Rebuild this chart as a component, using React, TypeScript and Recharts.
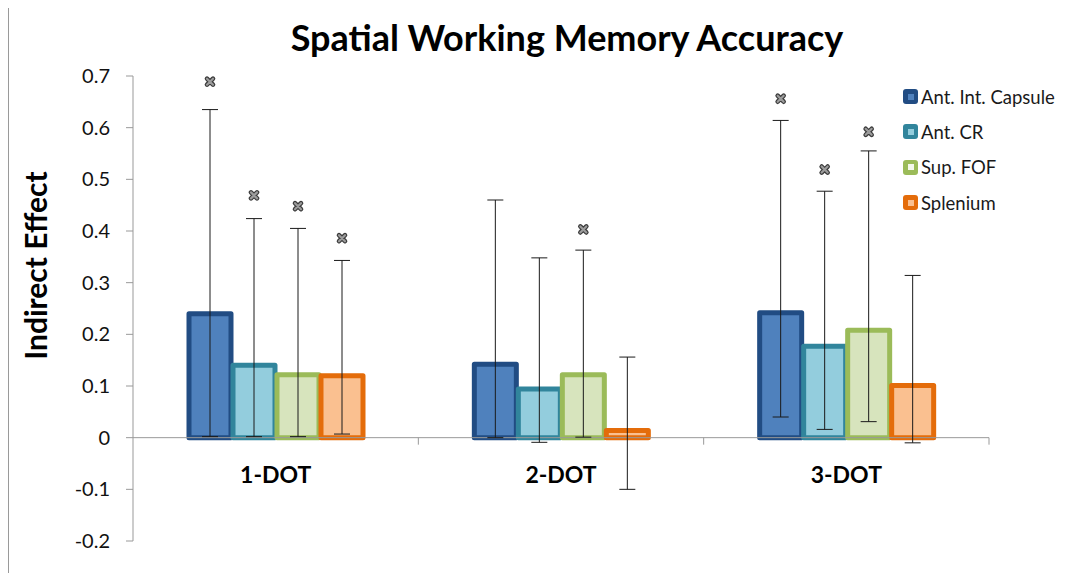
import React from 'react';
import { BarChart, Bar, XAxis, YAxis, ErrorBar, ReferenceLine, LabelList, Legend } from 'recharts';

const categories = ['1-DOT', '2-DOT', '3-DOT'];
const seriesNames = ['Ant. Int. Capsule', 'Ant. CR', 'Sup. FOF', 'Splenium'];

const capsuleValues = [0.24, 0.142, 0.242];
const crValues = [0.14, 0.094, 0.177];
const fofValues = [0.122, 0.122, 0.208];
const spleniumValues = [0.12, 0.014, 0.101];

const capsuleLow = [0.002, 0.0, 0.04];
const capsuleHigh = [0.635, 0.46, 0.614];
const crLow = [0.002, -0.009, 0.016];
const crHigh = [0.424, 0.348, 0.477];
const fofLow = [0.002, 0.001, 0.031];
const fofHigh = [0.405, 0.363, 0.555];
const spleniumLow = [0.007, -0.1, -0.01];
const spleniumHigh = [0.343, 0.156, 0.314];

const capsuleMarks = [0.689, null, 0.656];
const crMarks = [0.469, null, 0.519];
const fofMarks = [0.448, 0.403, 0.592];
const spleniumMarks = [0.386, null, null];

const yTicks = [-0.2, -0.1, 0, 0.1, 0.2, 0.3, 0.4, 0.5, 0.6, 0.7];

const seriesValues = [capsuleValues, crValues, fofValues, spleniumValues];
const seriesLow = [capsuleLow, crLow, fofLow, spleniumLow];
const seriesHigh = [capsuleHigh, crHigh, fofHigh, spleniumHigh];
const seriesMarks = [capsuleMarks, crMarks, fofMarks, spleniumMarks];

const fills = ['#4F81BD', '#93CDDD', '#D7E4BD', '#FAC090'];
const strokes = ['#214C83', '#31859C', '#9BBB59', '#E46C0A'];
const legendInner = ['#4F81BD', '#93CDDD', '#F4F8EC', '#FAC090'];

const FONT = "Lato, 'Open Sans', sans-serif";

const data = categories.map((cat, ci) => {
  const row: any = { cat };
  seriesValues.forEach((vals, si) => {
    const v = vals[ci];
    row[`v${si}`] = v;
    row[`e${si}`] = [v - seriesLow[si][ci], seriesHigh[si][ci] - v];
    row[`m${si}`] = seriesMarks[si][ci];
  });
  return row;
});

const Marker = (props: any) => {
  const { x, y, width, value } = props;
  if (value == null || x == null) return null;
  const cx = Number(x) + Number(width) / 2;
  const cy = Number(y);
  const s = 3;
  const d = `M${cx - s},${cy - s}L${cx + s},${cy + s}M${cx + s},${cy - s}L${cx - s},${cy + s}`;
  return (
    <g>
      <path d={d} stroke="#3c3c3c" strokeWidth={4.6} strokeLinecap="round" fill="none" />
      <path d={d} stroke="#9c9c9c" strokeWidth={2.2} strokeLinecap="round" fill="none" />
    </g>
  );
};

const XLabels = (props: any) => {
  const vb = props.viewBox || {};
  const x0 = vb.x;
  const y0 = vb.y;
  const w = vb.width;
  const n = categories.length;
  const band = w / n;
  return (
    <g>
      {categories.map((c, i) => (
        <line key={`t${i}`} x1={x0 + band * (i + 1)} x2={x0 + band * (i + 1)} y1={y0} y2={y0 + 7} stroke="#999" strokeWidth={1} />
      ))}
      {categories.map((c, i) => (
        <text key={`l${i}`} x={x0 + band * (i + 0.5)} y={y0 + 45} textAnchor="middle" fontFamily={FONT} fontWeight={700} fontSize={23} fill="#000">
          {c}
        </text>
      ))}
    </g>
  );
};

const YLabel = (props: any) => {
  const vb = props.viewBox || {};
  const cx = vb.x + 27;
  const cy = vb.y + vb.height / 2 - 43;
  return (
    <text x={cx} y={cy} transform={`rotate(-90 ${cx} ${cy})`} textAnchor="middle" dominantBaseline="central" fontFamily={FONT} fontWeight={700} fontSize={30} fill="#000">
      Indirect Effect
    </text>
  );
};

const LegendContent = () => (
  <div style={{ fontFamily: FONT, fontSize: 18.5, color: '#1a1a1a' }}>
    {seriesNames.map((name, i) => (
      <div key={name} style={{ display: 'flex', alignItems: 'center', height: 35.3 }}>
        <div style={{ width: 15, height: 15, background: strokes[i], borderRadius: 3, display: 'flex', alignItems: 'center', justifyContent: 'center', marginRight: 3, flexShrink: 0 }}>
          <div style={{ width: 6, height: 6, background: legendInner[i] }} />
        </div>
        <span style={{ whiteSpace: 'nowrap' }}>{name}</span>
      </div>
    ))}
  </div>
);

export default function App() {
  return (
    <div style={{ position: 'relative', width: 1061, height: 565 }}>
      <div style={{ position: 'absolute', left: 0, top: -1, width: 1, height: 566, background: '#9a9a9a' }} />
      <div style={{ position: 'absolute', left: 259, top: 7, width: 600, textAlign: 'center', fontFamily: FONT, fontWeight: 700, fontSize: 36, color: '#000', lineHeight: '44px', whiteSpace: 'nowrap' }}>
        Spatial Working Memory Accuracy
      </div>
      <BarChart
        width={1061}
        height={565}
        data={data}
        margin={{ top: 68, right: 80, left: 0, bottom: 32 }}
        barGap={2}
        barSize={42}
      >
        <XAxis xAxisId="main" dataKey="cat" hide />
        <XAxis xAxisId="mark" dataKey="cat" hide />
        <YAxis
          domain={[-0.2, 0.7]}
          ticks={yTicks}
          interval={0}
          width={125}
          tickSize={7}
          tickMargin={16}
          stroke="#999"
          tick={{ fill: '#111', fontSize: 20, fontFamily: FONT }}
          tickFormatter={(v: number) => String(Number(v.toFixed(1)))}
          label={{ content: YLabel }}
          allowDataOverflow
        />
        <ReferenceLine xAxisId="main" y={0} stroke="#999" strokeWidth={1} label={{ content: XLabels }} />
        {seriesNames.map((name, i) => (
          <Bar
            key={name}
            name={name}
            xAxisId="main"
            dataKey={`v${i}`}
            fill={fills[i]}
            stroke={strokes[i]}
            strokeWidth={5}
            strokeLinejoin="round"
            barSize={42}
            isAnimationActive={false}
          >
            <ErrorBar dataKey={`e${i}`} width={8} stroke="#1a1a1a" strokeWidth={1} direction="y" />
          </Bar>
        ))}
        {seriesNames.map((name, i) => (
          <Bar
            key={`m-${name}`}
            xAxisId="mark"
            dataKey={`m${i}`}
            fill="none"
            stroke="none"
            barSize={42}
            legendType="none"
            isAnimationActive={false}
          >
            <LabelList dataKey={`m${i}`} content={Marker} />
          </Bar>
        ))}
        <Legend
          layout="vertical"
          align="center"
          verticalAlign="middle"
          content={LegendContent}
          wrapperStyle={{ left: 895, top: 71, width: 170, height: 142 }}
        />
      </BarChart>
    </div>
  );
}
